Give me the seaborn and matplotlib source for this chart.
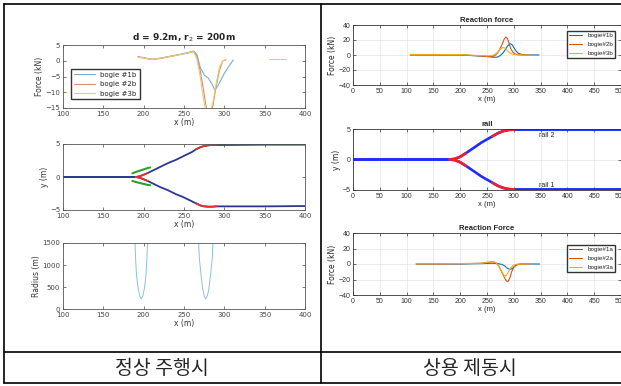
import numpy as np
import pandas as pd
import seaborn as sns
import matplotlib.pyplot as plt
from matplotlib.lines import Line2D

# ---- left column: normal running (d = 9.2m, r2 = 200m) ----
lt_x1 = [193, 200, 205, 211, 220, 230, 240, 250, 258, 262, 266, 270, 275, 280, 285, 288, 292, 296, 300, 305, 311]
lt_f1 = [1.3, 1.0, 0.7, 0.5, 0.8, 1.3, 1.8, 2.3, 2.8, 3.1, 2.0, -2.0, -4.5, -5.5, -7.5, -9.3, -8.0, -6.0, -4.0, -2.0, 0.2]
lt_x2 = [193, 200, 205, 211, 220, 230, 240, 250, 258, 262, 266, 270, 274, 278, 282, 286, 290, 294, 298, 302]
lt_f2 = [1.2, 0.9, 0.6, 0.4, 0.7, 1.2, 1.7, 2.2, 2.6, 2.9, 1.5, -3.0, -9.0, -15.5, -18.0, -14.0, -8.0, -3.0, 0.0, 0.3]
lt_x3 = [193, 200, 211, 230, 250, 262, 266, 270, 274, 278, 282, 286, 290, 294, 298, 302]
lt_f3 = [1.1, 0.9, 0.4, 1.2, 2.2, 2.9, 0.5, -5.0, -12.0, -17.0, -17.0, -13.0, -7.0, -2.0, 0.0, 0.3]
lt_x3b = [355, 376]
lt_f3b = [0.5, 0.5]
lt_labels = ["bogie #1b", "bogie #2b", "bogie #3b"]

lm_x = [100, 150, 190, 195, 200, 205, 210, 220, 230, 240, 250, 260, 265, 270, 275, 280, 285, 290, 300, 350, 400]
lm_up = [0, 0, 0, 0.1, 0.35, 0.6, 0.9, 1.5, 2.1, 2.6, 3.2, 3.8, 4.2, 4.5, 4.7, 4.8, 4.85, 4.85, 4.85, 4.9, 4.9]
lm_lo = [0, 0, 0, -0.1, -0.35, -0.6, -0.9, -1.5, -2.0, -2.6, -3.1, -3.7, -4.0, -4.3, -4.45, -4.5, -4.5, -4.45, -4.45, -4.45, -4.4]
lm_zones = [(188, 205), (262, 292)]
lm_gx = [186, 190, 195, 200, 205, 208]
lm_g_up = [0.55, 0.75, 0.95, 1.15, 1.35, 1.45]
lm_g_lo = [-0.6, -0.75, -0.9, -1.05, -1.2, -1.25]

lb_x1 = [189, 190, 191, 193, 195, 197, 199, 201, 203, 204, 205]
lb_x2 = [268, 269, 271, 273, 275, 277, 279, 281, 283, 285, 286]
lb_r = [1600, 1150, 800, 480, 300, 230, 300, 480, 800, 1150, 1600]

# ---- right column: service braking ----
rt_x1 = [107, 150, 200, 230, 250, 260, 268, 272, 276, 280, 284, 288, 291, 294, 297, 300, 304, 308, 314, 322, 347]
rt_f1 = [0, 0, 0, -1, -2, -2.8, -3, -2, 0, 3, 7, 11.5, 14, 15, 13.5, 10, 5.5, 2.5, 0.8, 0.2, 0]
rt_x2 = [107, 150, 200, 230, 250, 260, 265, 270, 274, 278, 282, 285, 288, 291, 294, 298, 302, 307, 315, 330]
rt_f2 = [0.5, 0.5, 0.3, -1, -2, -2, -0.5, 3, 8, 14, 21, 24, 22, 16, 9, 4, 1.5, 0.5, 0, 0]
rt_x3 = [107, 150, 200, 230, 250, 258, 264, 268, 272, 276, 280, 284, 288, 292, 297, 303, 312, 330]
rt_f3 = [0.8, 0.8, 0.5, -0.5, -1, -0.8, 0.5, 2.5, 5.5, 8.5, 10, 9, 6, 3, 1.2, 0.4, 0, 0]
rt_labels = ["bogie#1b", "bogie#2b", "bogie#3b"]

rm_x = [0, 50, 100, 150, 180, 190, 200, 210, 220, 230, 240, 250, 260, 270, 280, 290, 300, 350, 400, 450, 500]
rm_up = [0, 0, 0, 0, 0, 0.1, 0.45, 1.0, 1.6, 2.2, 2.8, 3.3, 3.8, 4.3, 4.65, 4.85, 4.9, 4.9, 4.9, 4.9, 4.9]
rm_lo = [0, 0, 0, 0, 0, -0.1, -0.45, -1.0, -1.6, -2.2, -2.8, -3.3, -3.8, -4.3, -4.65, -4.85, -4.9, -4.9, -4.9, -4.9, -4.9]
rm_zones = [(178, 212), (259, 300)]

rb_x1 = [118, 150, 200, 240, 260, 270, 278, 283, 287, 291, 294, 297, 300, 304, 310, 320, 348]
rb_f1 = [0, 0, 0, 0.5, 1, 0.5, -0.5, -2.5, -5, -6.5, -6.8, -6, -4, -1.5, -0.3, 0, 0]
rb_x2 = [118, 150, 200, 240, 255, 262, 267, 272, 276, 280, 284, 287, 290, 293, 296, 300, 305, 312, 330]
rb_f2 = [0, 0, 0.3, 1, 2.5, 3, 1.5, -2.5, -8, -14, -19.5, -22.5, -22, -17, -10, -4, -1, 0, 0]
rb_x3 = [118, 150, 200, 240, 255, 262, 267, 271, 275, 279, 283, 286, 290, 294, 299, 305, 315, 330]
rb_f3 = [0.3, 0.3, 0.5, 1, 2.5, 3, 1.5, -2, -7, -12, -15.5, -15, -10, -5, -1.5, -0.3, 0, 0]
rb_labels = ["bogie#1a", "bogie#2a", "bogie#3a"]

captions = ["정상 주행시", "상용 제동시"]

sns.set_style("ticks")
plt.rcParams['font.family'] = ['DejaVu Sans']
narrow = ['Liberation Sans Narrow', 'Liberation Sans', 'DejaVu Sans']

fig = plt.figure(figsize=(6.21, 3.86), dpi=100)

W, H = 621, 386
def px_axes(x0, x1, ytop, ybot):
    return fig.add_axes([x0 / W, 1 - ybot / H, (x1 - x0) / W, (ybot - ytop) / H])

def style_left(ax):
    for s in ax.spines.values():
        s.set_linewidth(0.6)
        s.set_color('#555555')
    ax.tick_params(direction='in', top=True, right=True, labelsize=5, length=2,
                   width=0.5, colors='#444444', pad=2)
    ax.set_xlim(100, 400)
    ax.set_xticks(range(100, 401, 50))
    ax.set_xlabel("x (m)", fontsize=5.5, color='#333333', labelpad=1)

def style_right(ax):
    for s in ax.spines.values():
        s.set_linewidth(0.6)
        s.set_color('#333333')
    ax.tick_params(direction='in', top=True, right=True, labelsize=5, length=2.5,
                   width=0.5, colors='#333333', pad=2)
    for lab in ax.get_xticklabels() + ax.get_yticklabels():
        lab.set_family(narrow)
    ax.set_xlim(0, 500)
    ax.set_xticks(range(0, 501, 50))
    ax.grid(True, color='#e4e4e4', lw=0.5)
    ax.set_axisbelow(True)
    ax.set_xlabel("x (m)", fontsize=5.5, family=narrow, labelpad=1)

c_blue, c_red, c_yel = '#0072BD', '#D95319', '#EDB120'
f_blue, f_red, f_yel = '#79acd6', '#d98c70', '#e6cc7a'

# left top
ax = px_axes(63, 305, 45, 108)
sns.lineplot(x=lt_x1, y=lt_f1, ax=ax, color=f_blue, lw=0.8, label=lt_labels[0], sort=False, estimator=None)
sns.lineplot(x=lt_x2, y=lt_f2, ax=ax, color=f_red, lw=0.8, label=lt_labels[1], sort=False, estimator=None)
sns.lineplot(x=lt_x3, y=lt_f3, ax=ax, color=f_yel, lw=0.8, label=lt_labels[2], sort=False, estimator=None)
sns.lineplot(x=lt_x3b, y=lt_f3b, ax=ax, color=f_yel, lw=0.8, sort=False, estimator=None)
ax.set_ylim(-15, 5)
ax.set_yticks([-15, -10, -5, 0, 5])
ax.set_ylabel("Force (kN)", fontsize=5.5, color='#333333', labelpad=1)
ax.set_title("d = 9.2m, r$_2$ = 200m", fontsize=6.5, fontweight='bold', pad=3)
style_left(ax)
ax.legend(loc='lower left', bbox_to_anchor=(0.02, 0.08), fontsize=5, frameon=True, fancybox=False,
          edgecolor='#333333', framealpha=1, handlelength=3, borderpad=0.4, labelspacing=0.5)

# left middle
ax = px_axes(63, 305, 144, 210)
df_up = pd.DataFrame({'x': lm_x, 'y': lm_up})
df_lo = pd.DataFrame({'x': lm_x, 'y': lm_lo})
for d in (df_up, df_lo):
    sns.lineplot(data=d, x='x', y='y', ax=ax, color='#2b3990', lw=1.3, sort=False, estimator=None)
for a, b in lm_zones:
    for d in (df_up, df_lo):
        sub = d[(d.x >= a) & (d.x <= b)]
        sns.lineplot(data=sub, x='x', y='y', ax=ax, color='#e8302a', lw=1.3, sort=False, estimator=None)
sns.lineplot(x=lm_gx, y=lm_g_up, ax=ax, color='#2ca02c', lw=1.5, sort=False, estimator=None)
sns.lineplot(x=lm_gx, y=lm_g_lo, ax=ax, color='#2ca02c', lw=1.5, sort=False, estimator=None)
ax.set_ylim(-5, 5)
ax.set_yticks([-5, 0, 5])
ax.set_ylabel("y (m)", fontsize=5.5, color='#333333', labelpad=1)
style_left(ax)

# left bottom
ax = px_axes(63, 305, 243, 309)
sns.lineplot(x=lb_x1, y=lb_r, ax=ax, color='#8cc0e0', lw=0.7, sort=False, estimator=None)
sns.lineplot(x=lb_x2, y=lb_r, ax=ax, color='#8cc0e0', lw=0.7, sort=False, estimator=None)
ax.set_ylim(0, 1500)
ax.set_yticks([0, 500, 1000, 1500])
ax.set_ylabel("Radius (m)", fontsize=5.5, color='#333333', labelpad=1)
style_left(ax)

# right top
ax = px_axes(353, 621, 25, 85)
sns.lineplot(x=rt_x1, y=rt_f1, ax=ax, color=c_blue, lw=0.8, label=rt_labels[0], sort=False, estimator=None)
sns.lineplot(x=rt_x2, y=rt_f2, ax=ax, color=c_red, lw=0.8, label=rt_labels[1], sort=False, estimator=None)
sns.lineplot(x=rt_x3, y=rt_f3, ax=ax, color=c_yel, lw=0.8, label=rt_labels[2], sort=False, estimator=None)
ax.set_ylim(-40, 40)
ax.set_yticks([-40, -20, 0, 20, 40])
ax.set_ylabel("Force (kN)", fontsize=5.5, labelpad=1)
ax.set_title("Reaction force", fontsize=5.5, fontweight='bold', family=narrow, pad=2)
style_right(ax)
ax.legend(loc='upper right', bbox_to_anchor=(0.99, 0.96), frameon=True, fancybox=False,
          edgecolor='#333333', framealpha=1, handlelength=2.2, borderpad=0.3, labelspacing=0.6,
          prop={'family': narrow, 'size': 4.5})

# right middle
ax = px_axes(353, 621, 129, 190)
df_up = pd.DataFrame({'x': rm_x, 'y': rm_up})
df_lo = pd.DataFrame({'x': rm_x, 'y': rm_lo})
for d in (df_up, df_lo):
    sns.lineplot(data=d, x='x', y='y', ax=ax, color='#1f2bff', lw=1.9, sort=False, estimator=None)
for a, b in rm_zones:
    for d in (df_up, df_lo):
        sub = d[(d.x >= a) & (d.x <= b)]
        sns.lineplot(data=sub, x='x', y='y', ax=ax, color='#f0202a', lw=1.9, sort=False, estimator=None)
ax.text(362, 4.0, "rail 2", fontsize=5, family=narrow, ha='center', va='center')
ax.text(362, -4.2, "rail 1", fontsize=5, family=narrow, ha='center', va='center')
ax.set_ylim(-5, 5)
ax.set_yticks([-5, 0, 5])
ax.set_ylabel("y (m)", fontsize=5.5, labelpad=1)
ax.set_title("rail", fontsize=5.5, fontweight='bold', family=narrow, pad=2)
style_right(ax)

# right bottom
ax = px_axes(353, 621, 233, 295)
sns.lineplot(x=rb_x1, y=rb_f1, ax=ax, color=c_blue, lw=0.8, label=rb_labels[0], sort=False, estimator=None)
sns.lineplot(x=rb_x2, y=rb_f2, ax=ax, color=c_red, lw=0.8, label=rb_labels[1], sort=False, estimator=None)
sns.lineplot(x=rb_x3, y=rb_f3, ax=ax, color=c_yel, lw=0.8, label=rb_labels[2], sort=False, estimator=None)
ax.set_ylim(-40, 40)
ax.set_yticks([-40, -20, 0, 20, 40])
ax.set_ylabel("Force (kN)", fontsize=5.5, labelpad=1)
ax.set_title("Reaction Force", fontsize=5.5, fontweight='bold', family=narrow, pad=2)
style_right(ax)
ax.legend(loc='upper right', bbox_to_anchor=(0.99, 0.86), frameon=True, fancybox=False,
          edgecolor='#333333', framealpha=1, handlelength=2.2, borderpad=0.3, labelspacing=0.6,
          prop={'family': narrow, 'size': 4.5})

# table frame
lw = 1.2
fig.add_artist(Line2D([4 / W, 4 / W], [1 - 4 / H, 1 - 383 / H], color='black', lw=lw))
fig.add_artist(Line2D([4 / W, 1], [1 - 4 / H, 1 - 4 / H], color='black', lw=lw))
fig.add_artist(Line2D([4 / W, 1], [1 - 383 / H, 1 - 383 / H], color='black', lw=lw))
fig.add_artist(Line2D([4 / W, 1], [1 - 352 / H, 1 - 352 / H], color='black', lw=lw))
fig.add_artist(Line2D([321 / W, 321 / W], [1 - 4 / H, 1 - 383 / H], color='black', lw=lw))

fig.text(162 / W, 1 - 368 / H, captions[0], fontsize=14, ha='center', va='center',
         family=['Noto Sans CJK KR', 'DejaVu Sans'])
fig.text(470 / W, 1 - 368 / H, captions[1], fontsize=14, ha='center', va='center',
         family=['Noto Sans CJK KR', 'DejaVu Sans'])

fig.savefig("out.png", dpi=100)
